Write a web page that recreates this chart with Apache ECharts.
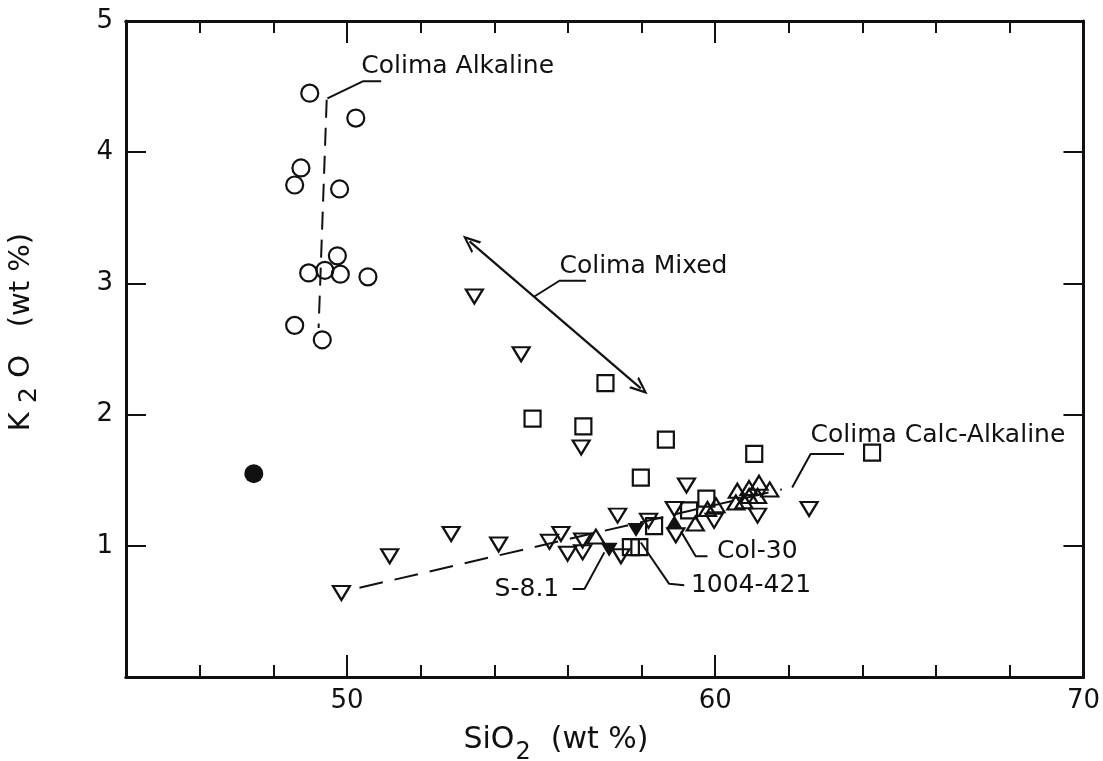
<!DOCTYPE html>
<html>
<head>
<meta charset="utf-8">
<script src="https://cdn.jsdelivr.net/npm/echarts@6/dist/echarts.min.js"></script>
<style>
html, body { margin: 0; padding: 0; background: #fff; }
#main { width: 1103px; height: 761px; }
</style>
</head>
<body>
<div id="main"></div>
<script>
// SiO2 (wt %) , K2O (wt %) pairs
const alkaline = [[48.99,4.45],[50.24,4.26],[48.75,3.88],[48.58,3.75],[49.80,3.72],[49.74,3.21],
  [48.96,3.08],[49.40,3.10],[49.82,3.07],[50.57,3.05],[48.58,2.68],[49.33,2.57]];
const basalt = [[47.47,1.55]];
const downTri = [[49.85,0.64],[51.16,0.92],[52.83,1.09],[54.12,1.01],[55.50,1.03],[55.81,1.09],
  [55.99,0.94],[56.40,1.04],[56.40,0.95],[53.46,2.90],[54.73,2.46],[56.36,1.75],[59.22,1.46],
  [57.35,1.23],[62.55,1.28],[61.15,1.23],[59.97,1.19],[58.89,1.28],[58.93,1.08],[57.44,0.92],[58.19,1.19]];
const squares = [[57.02,2.24],[55.04,1.97],[56.42,1.91],[58.66,1.81],[61.06,1.70],[64.26,1.71],
  [57.98,1.52],[59.76,1.36],[59.29,1.27],[58.34,1.15],[57.71,0.99],[57.94,0.99]];
const upTri = [[56.76,1.07],[59.46,1.17],[59.79,1.28],[60.02,1.31],[60.56,1.33],[60.60,1.42],
  [60.78,1.34],[60.92,1.44],[60.92,1.38],[61.19,1.48],[61.15,1.38],[61.48,1.43]];
const filledDown = [[57.12,0.97],[57.85,1.12]];
const filledUp = [[58.89,1.18]];

// trend lines, arrow and label leaders (data units)
const alkalineTrend = [[49.45,4.40],[49.23,2.66]];
const calcAlkTrend = [[50.34,0.68],[61.81,1.43]];
const mixingArrow = [[53.33,3.32],[57.98,2.20]];
const leaders = [
  [[49.47,4.41],[50.43,4.54],[50.93,4.54]],
  [[55.09,2.90],[55.77,3.02],[56.49,3.02]],
  [[62.09,1.445],[62.59,1.70],[63.50,1.70]],
  [[56.13,0.67],[56.45,0.67],[56.99,0.95]],
  [[57.98,1.025],[58.75,0.71],[59.16,0.70]],
  [[59.07,1.11],[59.47,0.92],[59.79,0.92]]
];
const labelNames = ['Colima Alkaline', 'Colima Mixed', 'Colima Calc-Alkaline', 'S-8.1', '1004-421', 'Col-30'];
const labelPos = [[50.39,4.65],[55.77,3.13],[62.59,1.84],[54.01,0.67],[59.34,0.695],[60.05,0.96]];

const xMinorTicks = [46,48,52,54,56,58,62,64,66,68];
const xMajorTicks = [50,60,70];
const yLabelTicks = [1,2,3,4,5];
const yTicks = [1,2,3,4];

const ink = '#111';
const font = 'DejaVu Sans';
const open = { color: 'rgba(255,255,255,0)', borderColor: ink, borderWidth: 2.2, opacity: 1 };
const solid = { color: ink, opacity: 1 };
const chevron = 'path://M5,0 L10,13 L8.4,13 L5,4 L1.6,13 L0,13 Z';

function xAxisDef(pos, ticks, len, labels) {
  return {
    type: 'value', min: 44, max: 70, interval: 2, position: pos,
    splitLine: { show: false },
    axisLine: { show: true, lineStyle: { color: ink, width: 3 } },
    axisTick: { inside: true, length: len, customValues: ticks, lineStyle: { color: ink, width: 2 } },
    axisLabel: labels ? { customValues: xMajorTicks, margin: 11, fontSize: 26, fontFamily: font, color: ink }
                      : { show: false }
  };
}
function yAxisDef(pos, labels) {
  return {
    type: 'value', min: 0, max: 5, interval: 1, position: pos,
    splitLine: { show: false },
    axisLine: { show: true, lineStyle: { color: ink, width: 3 } },
    axisTick: { inside: true, length: 20, customValues: yTicks, lineStyle: { color: ink, width: 2 } },
    axisLabel: labels ? { customValues: yLabelTicks, margin: 13, fontSize: 26, fontFamily: font, color: ink }
                      : { show: false }
  };
}

function scatter(name, data, symbol, size, style, rotate) {
  return { name, type: 'scatter', data, symbol, symbolSize: size, symbolRotate: rotate || 0,
    itemStyle: style, z: 5, silent: true };
}
function line(name, data, dash, width) {
  return { name, type: 'line', data, symbol: 'none', silent: true, z: 3,
    lineStyle: { color: ink, width: width || 2, type: dash || 'solid', opacity: 1 } };
}

const series = [
  line('alkalineTrend', alkalineTrend, [18, 10]),
  line('calcAlkTrend', calcAlkTrend, [24, 12]),
  ...leaders.map((l, i) => line('leader' + i, l, 'solid', 2)),
  {
    name: 'arrow', type: 'line', data: [], silent: true,
    markLine: {
      silent: true, animation: false, symbol: [chevron, chevron], symbolSize: [15, 18],
      label: { show: false },
      lineStyle: { color: ink, width: 2.2, type: 'solid', opacity: 1 },
      data: [[{ coord: mixingArrow[0] }, { coord: mixingArrow[1] }]]
    }
  },
  scatter('squares', squares, 'rect', 16, open),
  scatter('downTri', downTri, 'triangle', [17, 14], open, 180),
  scatter('upTri', upTri, 'triangle', [17, 14], open),
  scatter('alkaline', alkaline, 'circle', 17, open),
  scatter('basalt', basalt, 'circle', 19, solid),
  scatter('filledDown', filledDown, 'triangle', [17, 14], solid, 180),
  scatter('filledUp', filledUp, 'triangle', [17, 14], solid),
  {
    name: 'labels', type: 'scatter', symbolSize: 0, silent: true,
    itemStyle: { opacity: 1 },
    data: labelNames.map((n, i) => ({ name: n, value: labelPos[i] })),
    label: { show: true, position: 'right', distance: 0, formatter: '{b}',
      fontSize: 25, fontFamily: font, color: ink, opacity: 1 }
  }
];

const chart = echarts.init(document.getElementById('main'));
chart.setOption({
  animation: false,
  backgroundColor: '#fff',
  grid: { left: 126, right: 18, top: 21, bottom: 84 },
  xAxis: [
    xAxisDef('bottom', xMinorTicks, 12, true),
    xAxisDef('bottom', xMajorTicks, 22, false),
    xAxisDef('top', xMinorTicks, 12, false),
    xAxisDef('top', xMajorTicks, 22, false)
  ],
  yAxis: [yAxisDef('left', true), yAxisDef('right', false)],
  series,
  graphic: [
    {
      type: 'text', x: 556, y: 742, silent: true,
      style: {
        text: '{a|SiO}{s|2}{a|  (wt %)}', align: 'center', verticalAlign: 'middle', fill: ink,
        rich: {
          a: { fontSize: 30, fontFamily: font, lineHeight: 34, verticalAlign: 'top' },
          s: { fontSize: 24, fontFamily: font, lineHeight: 26, padding: [16, 1, 0, 1], verticalAlign: 'top' }
        }
      }
    },
    {
      type: 'text', x: 24, y: 332, rotation: Math.PI / 2, silent: true,
      style: {
        text: '{a|K }{s|2}{a| O   (wt %)}', align: 'center', verticalAlign: 'middle', fill: ink,
        rich: {
          a: { fontSize: 29, fontFamily: font, lineHeight: 34, verticalAlign: 'top' },
          s: { fontSize: 25, fontFamily: font, lineHeight: 28, padding: [10, 0, 0, 0], verticalAlign: 'top' }
        }
      }
    }
  ]
});
</script>
</body>
</html>
